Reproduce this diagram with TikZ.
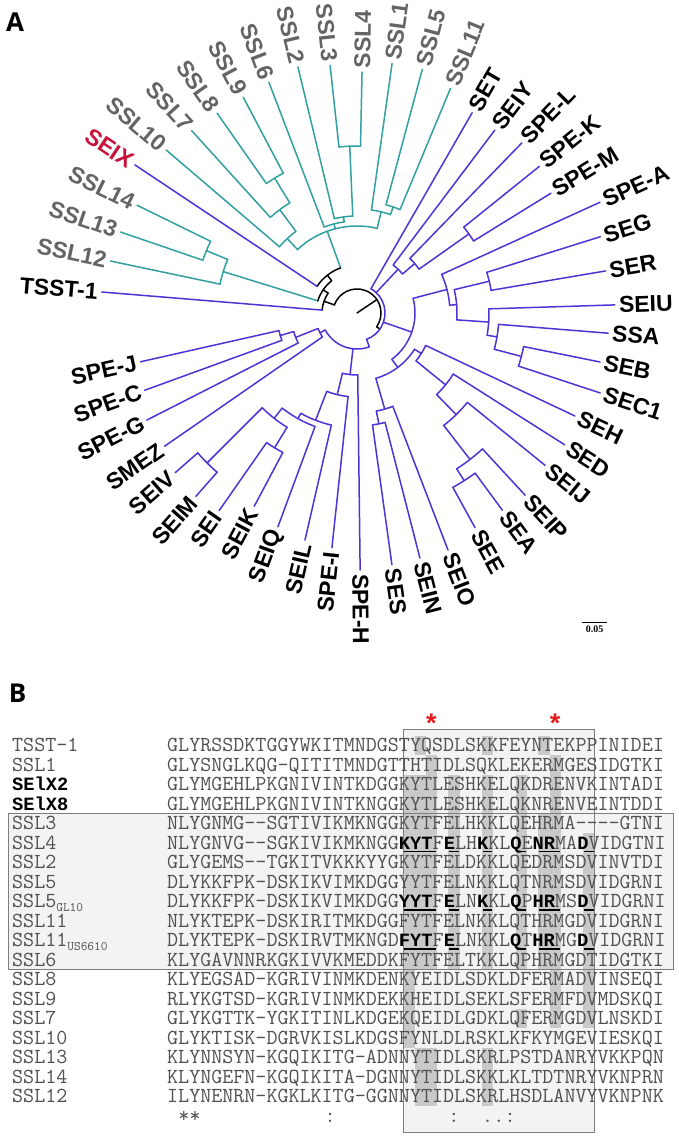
\documentclass[tikz,border=0pt]{standalone}
\usepackage{fontspec}
\setmainfont{Liberation Sans}
\setmonofont{Latin Modern Mono}
\newfontfamily\monob{Liberation Mono}
\newfontfamily\labf{Liberation Sans}
\newfontfamily\panf{Open Sans}
\newfontfamily\barf{Liberation Serif}
\definecolor{pur}{RGB}{80,50,215}
\definecolor{tea}{RGB}{50,160,160}
\definecolor{ssl}{RGB}{100,100,100}
\definecolor{seix}{RGB}{200,20,60}
\definecolor{seqc}{RGB}{80,80,80}
\definecolor{cellc}{RGB}{201,201,201}
\definecolor{boxf}{RGB}{243,243,243}
\definecolor{boxd}{RGB}{125,125,125}
\definecolor{star}{RGB}{228,28,28}
\newcommand\rad[4]{\draw[#1] (#2:#3pt) -- (#2:#4pt);}
\newcommand\arcc[4]{\draw[#1] (#2:#4pt) arc[start angle=#2, end angle=#3, radius=#4pt];}
\newcommand\leaf[7]{%
  \rad{#1}{#2}{#3}{#4}%
  \pgfmathtruncatemacro\side{(#2>-90.5)&&(#2<90.5)}%
  \pgfmathsetmacro\lr{#4+3}%
  \ifnum\side=1
    \node[lab,text=#5,anchor=west,rotate=#2] (#6) at (#2:\lr pt) {#7};
  \else
    \pgfmathsetmacro\rt{#2+180}%
    \node[lab,text=#5,anchor=east,rotate=\rt] (#6) at (#2:\lr pt) {#7};
  \fi}
\newcommand\bs[1]{{\monob\bfseries\fontsize{18.75}{18.75}\selectfont\color{black}#1}}
\begin{document}
\begin{tikzpicture}[x=1pt,y=1pt,
  pl/.style={pur,line width=1.5pt,line cap=round},
  tl/.style={tea,line width=1.5pt,line cap=round},
  bl/.style={black,line width=1.5pt,line cap=round},
  lab/.style={font=\labf\bfseries\fontsize{23}{23}\selectfont,inner sep=1pt},
  seq/.style={font=\ttfamily\fontsize{21.43}{21.43}\selectfont,text=seqc,inner sep=0pt,anchor=base west},
  ul/.style={black,line width=1.4pt},
  panel/.style={font=\panf\bfseries\fontsize{26}{26}\selectfont,inner sep=0pt}]
\useasboundingbox (0,0) rectangle (678,1141);
\fill[white] (0,0) rectangle (678,1141);
% ---------------- Panel A ----------------
\node[panel] (pA) at (15,1119) {A};
\begin{scope}[shift={(357,828)}]
% cyan clade
\arcc{tl}{161.1}{153.9}{163}
\rad{tl}{157.5}{140}{163}
\leaf{tl}{161.1}{163}{250}{ssl}{t2}{SSL13}
\leaf{tl}{153.9}{163}{245}{ssl}{t3}{SSL14}
\arcc{tl}{168.1}{157.5}{140}
\leaf{tl}{168.1}{140}{252}{ssl}{t1}{SSL12}
\rad{tl}{162.8}{41}{140}
\arcc{tl}{125.0}{117.8}{158}
\leaf{tl}{125.0}{158}{244}{ssl}{t7}{SSL8}
\leaf{tl}{117.8}{158}{244}{ssl}{t8}{SSL9}
\rad{tl}{121.4}{129}{158}
\arcc{tl}{132.2}{121.4}{129}
\leaf{tl}{132.2}{129}{246}{ssl}{t6}{SSL7}
\rad{tl}{126.8}{102}{129}
\arcc{tl}{139.5}{126.8}{102}
\leaf{tl}{139.5}{102}{251}{ssl}{t5}{SSL10}
\rad{tl}{133.15}{87}{102}
\arcc{tl}{96.2}{88.8}{167}
\leaf{tl}{96.2}{167}{249}{ssl}{t11}{SSL3}
\leaf{tl}{88.8}{167}{241}{ssl}{t12}{SSL4}
\rad{tl}{92.5}{97}{167}
\arcc{tl}{103.5}{92.5}{97}
\leaf{tl}{103.5}{97}{253}{ssl}{t10}{SSL2}
\rad{tl}{98}{92}{97}
\arcc{tl}{110.9}{98}{92}
\leaf{tl}{110.9}{92}{247}{ssl}{t9}{SSL6}
\rad{tl}{104.45}{87}{92}
\arcc{tl}{75}{67.4}{112}
\leaf{tl}{75}{112}{252}{ssl}{t14}{SSL5}
\leaf{tl}{67.4}{112}{243}{ssl}{t15}{SSL11}
\rad{tl}{71.2}{104}{112}
\arcc{tl}{82}{71.2}{104}
\leaf{tl}{82}{104}{252}{ssl}{t13}{SSL1}
\rad{tl}{76.6}{87}{104}
\arcc{tl}{133.15}{76.6}{87}
\rad{tl}{110}{48}{87}
% black root region
\arcc{bl}{146.3}{110}{48}
\leaf{pl}{146.3}{48}{267}{seix}{t4}{SEIX}
\arcc{bl}{162.8}{128.15}{41}
\rad{bl}{128.15}{41}{48}
\arcc{bl}{175.3}{145.5}{35}
\rad{bl}{145.5}{35}{41}
\leaf{pl}{175.3}{35}{256}{black}{t0}{TSST-1}
\rad{bl}{160.4}{24}{35}
\arcc{bl}{160.4}{-35}{24}
\rad{bl}{34}{0}{24}
\rad{bl}{-35}{24}{28}
% purple, upper right
\arcc{pl}{60.1}{-70}{28}
\leaf{pl}{60.1}{28}{231}{black}{t16}{SET}
\arcc{pl}{38.8}{31.7}{137}
\leaf{pl}{38.8}{137}{234}{black}{t19}{SPE-K}
\leaf{pl}{31.7}{137}{228}{black}{t20}{SPE-M}
\rad{pl}{35.25}{76}{137}
\arcc{pl}{45.9}{35.25}{76}
\leaf{pl}{45.9}{76}{237}{black}{t18}{SPE-L}
\rad{pl}{40.6}{60}{76}
\arcc{pl}{53}{40.6}{60}
\leaf{pl}{53}{60}{229}{black}{t17}{SEIY}
\rad{pl}{46.8}{28}{60}
% right group
\arcc{pl}{-11.4}{-18.2}{170}
\leaf{pl}{-11.4}{170}{248}{black}{t26}{SEB}
\leaf{pl}{-18.2}{170}{256}{black}{t27}{SEC1}
\rad{pl}{-14.8}{142}{170}
\arcc{pl}{-4.6}{-14.8}{142}
\leaf{pl}{-4.6}{142}{252}{black}{t25}{SSA}
\rad{pl}{-9.7}{132}{142}
\arcc{pl}{1.8}{-9.7}{132}
\leaf{pl}{1.8}{132}{258}{black}{t24}{SEIU}
\rad{pl}{-3.95}{100}{132}
\arcc{pl}{17.4}{9.6}{136}
\leaf{pl}{17.4}{136}{255}{black}{t22}{SEG}
\leaf{pl}{9.6}{136}{252}{black}{t23}{SER}
\rad{pl}{13.5}{100}{136}
\arcc{pl}{13.5}{-3.95}{100}
\rad{pl}{4.8}{93}{100}
\arcc{pl}{24.5}{4.8}{93}
\leaf{pl}{24.5}{93}{267}{black}{t21}{SPE-A}
\rad{pl}{14.65}{58}{93}
% lower right group
\arcc{pl}{-53.6}{-61.2}{199}
\leaf{pl}{-53.6}{199}{245}{black}{t32}{SEA}
\leaf{pl}{-61.2}{199}{245}{black}{t33}{SEE}
\rad{pl}{-57.4}{185}{199}
\arcc{pl}{-47.3}{-57.4}{185}
\leaf{pl}{-47.3}{185}{248}{black}{t31}{SEIP}
\rad{pl}{-52.35}{142}{185}
\arcc{pl}{-39}{-52.35}{142}
\leaf{pl}{-39}{142}{242}{black}{t30}{SEIJ}
\rad{pl}{-45.7}{114}{142}
\arcc{pl}{-32.4}{-45.7}{114}
\leaf{pl}{-32.4}{114}{246}{black}{t29}{SED}
\rad{pl}{-39.05}{76}{114}
\arcc{pl}{-25.3}{-39.05}{76}
\leaf{pl}{-25.3}{76}{241}{black}{t28}{SEH}
\rad{pl}{-32.2}{68}{76}
\arcc{pl}{-75.6}{-82.1}{113}
\leaf{pl}{-75.6}{113}{253}{black}{t35}{SEIN}
\leaf{pl}{-82.1}{113}{254}{black}{t36}{SES}
\rad{pl}{-78.85}{100}{113}
\arcc{pl}{-69}{-78.85}{100}
\leaf{pl}{-69}{100}{254}{black}{t34}{SEIO}
\rad{pl}{-73.9}{68}{100}
\arcc{pl}{-32.2}{-73.9}{68}
\rad{pl}{-53.05}{58}{68}
\arcc{pl}{14.65}{-53.05}{58}
\rad{pl}{-19.2}{28}{58}
% lower group
\rad{pl}{-70}{28}{36}
\arcc{pl}{-70}{-151.8}{36}
\arcc{pl}{-131.3}{-138.7}{212}
\leaf{pl}{-131.3}{212}{244}{black}{t43}{SEIM}
\leaf{pl}{-138.7}{212}{242}{black}{t44}{SEIV}
\rad{pl}{-135}{134}{212}
\arcc{pl}{-118}{-124.9}{158}
\leaf{pl}{-118}{158}{219}{black}{t41}{SEIK}
\leaf{pl}{-124.9}{158}{241}{black}{t42}{SEI}
\rad{pl}{-121.45}{134}{158}
\arcc{pl}{-121.45}{-135}{134}
\rad{pl}{-128.2}{121}{134}
\arcc{pl}{-110.3}{-128.2}{121}
\leaf{pl}{-110.3}{121}{228}{black}{t40}{SEIQ}
\rad{pl}{-119.25}{115}{121}
\arcc{pl}{-102.9}{-119.25}{115}
\leaf{pl}{-102.9}{115}{233}{black}{t39}{SEIL}
\rad{pl}{-111.1}{84}{115}
\arcc{pl}{-96.1}{-111.1}{84}
\leaf{pl}{-96.1}{84}{236}{black}{t38}{SPE-I}
\rad{pl}{-103.6}{62}{84}
\arcc{pl}{-89.3}{-103.6}{62}
\leaf{pl}{-89.3}{62}{257}{black}{t37}{SPE-H}
\rad{pl}{-96.45}{36}{62}
% lower left group
\arcc{pl}{-160}{-167.3}{80}
\leaf{pl}{-160}{80}{226}{black}{t47}{SPE-C}
\leaf{pl}{-167.3}{80}{222}{black}{t48}{SPE-J}
\rad{pl}{-163.65}{66}{80}
\arcc{pl}{-153}{-163.65}{66}
\leaf{pl}{-153}{66}{236}{black}{t46}{SPE-G}
\rad{pl}{-158.3}{42}{66}
\arcc{pl}{-145.3}{-158.3}{42}
\leaf{pl}{-145.3}{42}{234}{black}{t45}{SMEZ}
\rad{pl}{-151.8}{36}{42}
\end{scope}
% scale bar
\coordinate (sb1) at (582,518.3);
\coordinate (sb2) at (607,518.3);
\draw[line width=1pt] (sb1) -- (sb2);
\node[font=\barf\bfseries\fontsize{10}{10}\selectfont,inner sep=0pt] (sbt) at (594.5,512) {0.05};
% ---------------- Panel B ----------------
\node[panel] (pB) at (17.5,447.5) {B};
\fill[boxf] (403.25,411) rectangle (594.5,8);
\fill[boxf] (8,327) rectangle (673,171);
\foreach \c/\a/\b in {21/2/15,22/0/0,22/2/11,22/16/18,23/1/11,23/16/18,25/2/11,28/0/0,28/2/11,28/16/18,31/2/11,31/14/14,33/0/0,33/4/11,34/1/14,37/5/14}
  \fill[cellc] ({167+\c*11.25},{395.3-19.5*\a+9.75}) rectangle ({167+(\c+1)*11.25},{395.3-19.5*\b-9.75});
\draw[boxd,line width=1pt] (403.25,411) rectangle (594.5,8);
\draw[boxd,line width=1pt] (8,327) rectangle (673,171);
% stars
\node[font=\labf\bfseries\fontsize{27}{27}\selectfont,text=star,anchor=north,inner sep=0pt] (st1) at (431.4,427) {*};
\node[font=\labf\bfseries\fontsize{27}{27}\selectfont,text=star,anchor=north,inner sep=0pt] (st2) at (555.1,427) {*};
% names
\node[seq] (n0) at (12,389.3) {TSST-1};
\node[seq] (n1) at (12,369.8) {SSL1};
\node[seq] (n2) at (12,350.3) {\bs{SElX2}};
\node[seq] (n3) at (12,330.8) {\bs{SElX8}};
\node[seq] (n4) at (12,311.3) {SSL3};
\node[seq] (n5) at (12,291.8) {SSL4};
\node[seq] (n6) at (12,272.3) {SSL2};
\node[seq] (n7) at (12,252.8) {SSL5};
\node[seq] (n8) at (12,233.3) {SSL5\raisebox{-3.5pt}{\fontsize{13}{13}\selectfont GL10}};
\node[seq] (n9) at (12,213.8) {SSL11};
\node[seq] (n10) at (12,194.3) {SSL11\raisebox{-3.5pt}{\fontsize{13}{13}\selectfont US6610}};
\node[seq] (n11) at (12,174.8) {SSL6};
\node[seq] (n12) at (12,155.3) {SSL8};
\node[seq] (n13) at (12,135.8) {SSL9};
\node[seq] (n14) at (12,116.3) {SSL7};
\node[seq] (n15) at (12,96.8) {SSL10};
\node[seq] (n16) at (12,77.3) {SSL13};
\node[seq] (n17) at (12,57.8) {SSL14};
\node[seq] (n18) at (12,38.3) {SSL12};
% sequences
\node[seq] (s0) at (167,389.3) {GLYRSSDKTGGYWKITMNDGSTYQSDLSKKFEYNTEKPPINIDEI};
\node[seq] (s1) at (167,369.8) {GLYSNGLKQG-QITITMNDGTTHTIDLSQKLEKERMGESIDGTKI};
\node[seq] (s2) at (167,350.3) {GLYMGEHLPKGNIVINTKDGGKYTLESHKELQKDRENVKINTADI};
\node[seq] (s3) at (167,330.8) {GLYMGEHLPKGNIVINTKNGGKYTLESHKELQKNRENVEINTDDI};
\node[seq] (s4) at (167,311.3) {NLYGNMG-\kern0pt-SGTIVIKMKNGGKYTFELHKKLQEHRMA-\kern0pt-\kern0pt-\kern0pt-GTNI};
\node[seq] (s5) at (167,291.8) {NLYGNVG-\kern0pt-SGKIVIKMKNGG\bs{KYT}F\bs{E}LH\bs{K}KL\bs{Q}E\bs{NR}MA\bs{D}VIDGTNI};
\node[seq] (s6) at (167,272.3) {GLYGEMS-\kern0pt-TGKITVKKKYYGKYTFELDKKLQEDRMSDVINVTDI};
\node[seq] (s7) at (167,252.8) {DLYKKFPK-DSKIKVIMKDGGYYTFELNKKLQTNRMSDVIDGRNI};
\node[seq] (s8) at (167,233.3) {DLYKKFPK-DSKIKVIMKDGG\bs{YYT}F\bs{E}LN\bs{K}KL\bs{Q}P\bs{HR}MS\bs{D}VIDGRNI};
\node[seq] (s9) at (167,213.8) {NLYKTEPK-DSKIRITMKDGGFYTFELNKKLQTHRMGDVIDGRNI};
\node[seq] (s10) at (167,194.3) {DLYKTEPK-DSKIRVTMKNGD\bs{FYT}F\bs{E}LNKKL\bs{Q}T\bs{HR}MG\bs{D}VIDGRNI};
\node[seq] (s11) at (167,174.8) {KLYGAVNNRKGKIVVKMEDDKFYTFELTKKLQPHRMGDTIDGTKI};
\node[seq] (s12) at (167,155.3) {KLYEGSAD-KGRIVINMKDENKYEIDLSDKLDFERMADVINSEQI};
\node[seq] (s13) at (167,135.8) {RLYKGTSD-KGRIVINMKDEKKHEIDLSEKLSFERMFDVMDSKQI};
\node[seq] (s14) at (167,116.3) {GLYKGTTK-YGKITINLKDGEKQEIDLGDKLQFERMGDVLNSKDI};
\node[seq] (s15) at (167,96.8) {GLYKTISK-DGRVKISLKDGSFYNLDLRSKLKFKYMGEVIESKQI};
\node[seq] (s16) at (167,77.3) {KLYNNSYN-KGQIKITG-ADNNYTIDLSKRLPSTDANRYVKKPQN};
\node[seq] (s17) at (167,57.8) {KLYNGEFN-KGQIKITA-DGNNYTIDLSKKLKLTDTNRYVKNPRN};
\node[seq] (s18) at (167,38.3) {ILYNENRN-KGKLKITG-GGNNYTIDLSKRLHSDLANVYVKNPNK};
% consensus
\foreach \c/\s in {1/*,2/*,14/:,25/:,28/.,29/.,30/:}
  \node[seq] (c\c) at ({167+\c*11.25},18.8) {\s};
% underlines
\foreach \r in {5,8}
  \foreach \a/\b in {21/23,25/25,28/28,31/31,33/34,37/37}
    \draw[ul] ({167+\a*11.25+0.8},{389.3-19.5*\r-2.5}) -- ({167+(\b+1)*11.25-0.8},{389.3-19.5*\r-2.5});
\foreach \a/\b in {21/23,25/25,31/31,33/34,37/37}
  \draw[ul] ({167+\a*11.25+0.8},{194.3-2.5}) -- ({167+(\b+1)*11.25-0.8},{194.3-2.5});
\end{tikzpicture}
\end{document}
